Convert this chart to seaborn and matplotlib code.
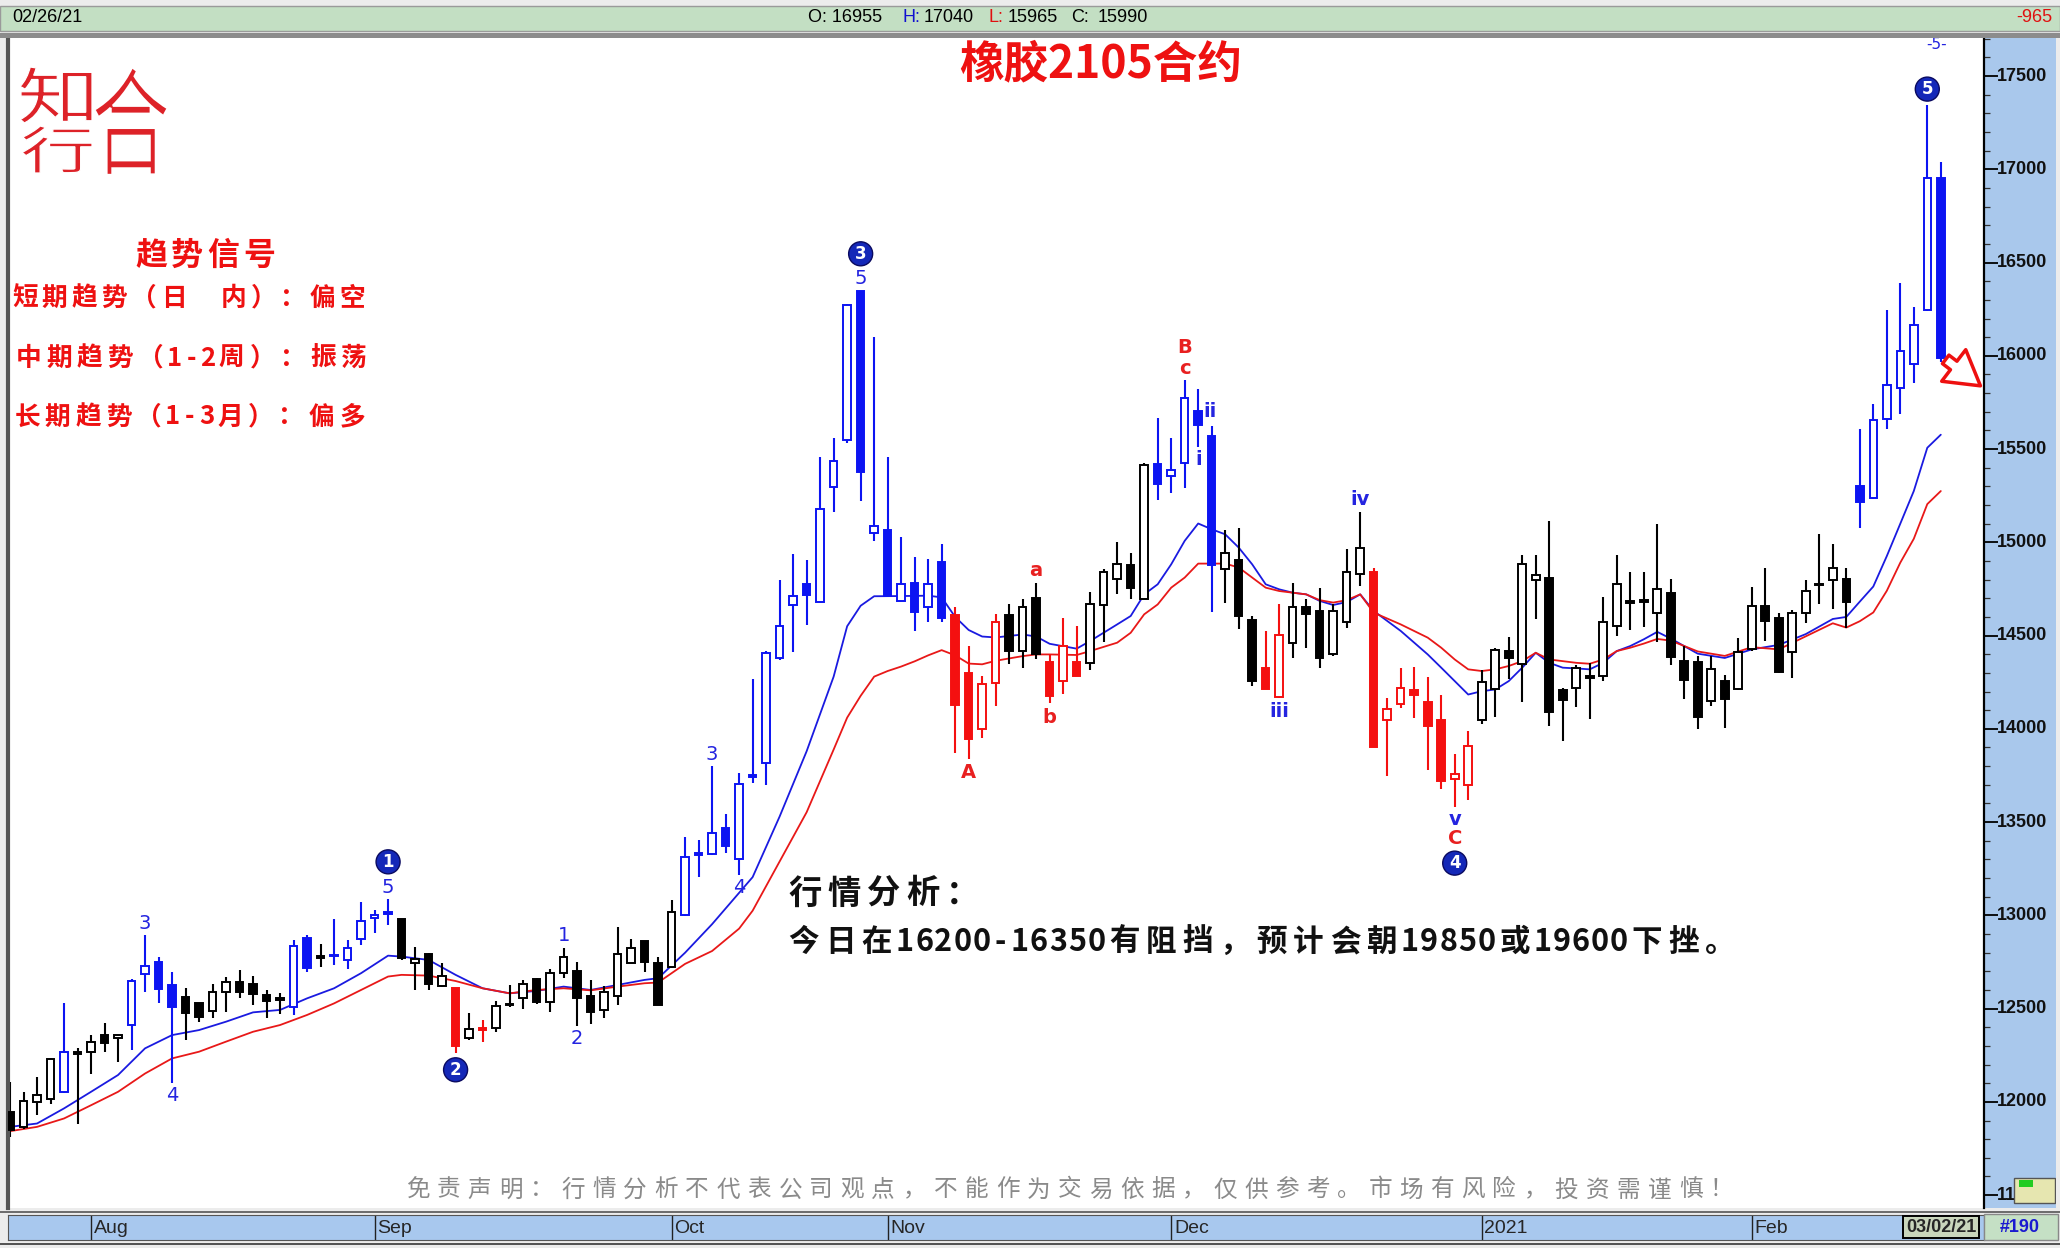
import matplotlib
matplotlib.use("Agg")
import numpy as np
import matplotlib.pyplot as plt
import seaborn as sns
from matplotlib.patches import Rectangle, PathPatch, FancyArrowPatch
from matplotlib.textpath import TextPath
from matplotlib.font_manager import FontProperties
from matplotlib.transforms import Affine2D, IdentityTransform, blended_transform_factory
from matplotlib.ticker import MultipleLocator

# ---- daily bars, index 0 = first bar on the left ----
opens = [11947, 11866, 12000, 12018, 12051, 12265, 12269, 12358, 12340, 12412,
         12684, 12752, 12627, 12561, 12528, 12489, 12591, 12641, 12630, 12573,
         12555, 12511, 12877, 12784, 12787, 12761, 12874, 12985, 13016, 12978,
         12747, 12792, 12623, 12609, 12341, 12395, 12398, 12527, 12555, 12657,
         12537, 12690, 12704, 12570, 12493, 12570, 12743, 12860, 12745, 12725,
         13001, 13335, 13330, 13467, 13301, 13750, 13817, 14380, 14663, 14776,
         14682, 15299, 15549, 16347, 15050, 15065, 14686, 14782, 14653, 14897,
         14609, 14300, 14000, 14244, 14608, 14420, 14703, 14360, 14259, 14360,
         14354, 14664, 14802, 14879, 14694, 15419, 15357, 15428, 15702, 15571,
         14855, 14904, 14583, 14324, 14170, 14462, 14653, 14632, 14399, 14575,
         14832, 14843, 14045, 14131, 14206, 14145, 14045, 13733, 13701, 14045,
         14211, 14417, 14346, 14798, 14811, 14206, 14217, 14282, 14283, 14551,
         14684, 14690, 14623, 14729, 14364, 14357, 14148, 14257, 14213, 14427,
         14659, 14596, 14410, 14620, 14778, 14798, 14801, 15303, 15240, 15659,
         15826, 15954, 16247, 16955]
highs = [12108, 12051, 12133, 12237, 12528, 12287, 12358, 12425, 12358, 12659,
         12895, 12777, 12695, 12609, 12528, 12632, 12672, 12706, 12673, 12600,
         12584, 12869, 12895, 12845, 12980, 12870, 13074, 13030, 13089, 12981,
         12833, 12797, 12743, 12609, 12478, 12439, 12543, 12627, 12654, 12666,
         12713, 12824, 12752, 12654, 12623, 12940, 12874, 12860, 12777, 13082,
         13421, 13402, 13801, 13541, 13765, 14266, 14418, 14800, 14940, 14905,
         15455, 15558, 16278, 16347, 16101, 15455, 15027, 14922, 14912, 14989,
         14653, 14446, 14284, 14614, 14671, 14698, 14784, 14399, 14592, 14551,
         14735, 14855, 15004, 14945, 15423, 15665, 15559, 15870, 15822, 15625,
         15065, 15079, 14605, 14524, 14668, 14780, 14694, 14757, 14671, 14963,
         15165, 14861, 14163, 14324, 14333, 14278, 14184, 13866, 13988, 14313,
         14435, 14494, 14933, 14933, 15115, 14220, 14342, 14354, 14707, 14933,
         14843, 14843, 15100, 14806, 14443, 14392, 14392, 14290, 14489, 14759,
         14861, 14620, 14636, 14798, 15042, 14991, 14861, 15605, 15740, 16247,
         16391, 16263, 17344, 17040]
lows = [11812, 11857, 11929, 11986, 12045, 11884, 12152, 12269, 12215, 12278,
        12587, 12528, 12100, 12332, 12430, 12448, 12484, 12555, 12519, 12451,
        12469, 12466, 12695, 12724, 12734, 12713, 12842, 12904, 12949, 12761,
        12600, 12600, 12618, 12260, 12332, 12323, 12376, 12511, 12498, 12523,
        12480, 12666, 12409, 12416, 12451, 12520, 12743, 12695, 12520, 12720,
        12995, 13205, 13325, 13337, 13217, 13709, 13697, 14370, 14413, 14557,
        14678, 15161, 15535, 15223, 15008, 14711, 14686, 14524, 14571, 14571,
        13872, 13838, 13952, 14122, 14349, 14324, 14372, 14139, 14188, 14283,
        14313, 14467, 14725, 14694, 14694, 15226, 15262, 15290, 15509, 14628,
        14676, 14533, 14229, 14211, 14163, 14381, 14435, 14327, 14390, 14542,
        14766, 13902, 13746, 14113, 14059, 13782, 13680, 13579, 13621, 14027,
        14063, 14265, 14145, 14587, 14014, 13934, 14116, 14055, 14256, 14498,
        14528, 14546, 14465, 14341, 14159, 14000, 14125, 14006, 14206, 14415,
        14473, 14298, 14275, 14566, 14670, 14643, 14543, 15077, 15233, 15605,
        15689, 15856, 16240, 15965]
closes = [11848, 12004, 12036, 12230, 12265, 12255, 12319, 12314, 12358, 12648,
          12729, 12605, 12509, 12475, 12457, 12591, 12641, 12591, 12577, 12541,
          12545, 12838, 12716, 12770, 12782, 12824, 12971, 13003, 13008, 12770,
          12765, 12630, 12677, 12301, 12391, 12387, 12516, 12520, 12632, 12537,
          12690, 12779, 12559, 12484, 12588, 12793, 12827, 12752, 12520, 13017,
          13313, 13325, 13440, 13373, 13702, 13740, 14406, 14551, 14711, 14719,
          15180, 15436, 16274, 15376, 15088, 14711, 14774, 14628, 14774, 14596,
          14129, 13945, 14238, 14575, 14417, 14653, 14399, 14175, 14444, 14283,
          14671, 14843, 14886, 14757, 15414, 15312, 15387, 15774, 15630, 14879,
          14945, 14605, 14256, 14211, 14501, 14653, 14614, 14381, 14632, 14843,
          14968, 13902, 14107, 14220, 14181, 14014, 13719, 13760, 13907, 14252,
          14421, 14381, 14883, 14823, 14091, 14152, 14324, 14274, 14575, 14775,
          14676, 14682, 14748, 14387, 14264, 14066, 14322, 14160, 14410, 14659,
          14578, 14303, 14620, 14740, 14772, 14861, 14682, 15215, 15656, 15842,
          16028, 16163, 16954, 15990]
bar_colors = ("kkkkbkkkkbbbbkkkkkkkkbbkbbbbbkkkkrkr" + "k" * 14 + "b" * 20 + "rrrr"
              + "kkk" + "rrr" + "kkkkk" + "bbbbb" + "kkk" + "rr" + "kkkkkk"
              + "r" * 8 + "k" * 28 + "b" * 7)

# ---- moving averages (read at sample bars) ----
ma_fast_idx = [0, 2, 4, 6, 8, 10, 12, 14, 16, 18, 20, 22, 24, 26, 28, 29, 31, 33, 35, 37,
               39, 41, 43, 45, 47, 48, 50, 52, 54, 55, 57, 59, 61, 62, 63, 64, 66, 68, 69,
               70, 71, 72, 73, 75, 76, 77, 79, 80, 82, 83, 84, 85, 86, 87, 88, 89, 90, 91,
               92, 93, 94, 95, 96, 97, 98, 99, 100, 101, 103, 105, 106, 107, 108, 109, 110,
               111, 112, 113, 114, 115, 116, 117, 118, 119, 120, 121, 122, 123, 125, 127,
               129, 131, 133, 135, 136, 137, 138, 139, 140, 141, 142, 143]
ma_fast = [11866, 11884, 11965, 12054, 12144, 12287, 12358, 12385, 12430, 12480, 12493,
           12555, 12609, 12690, 12784, 12779, 12761, 12681, 12609, 12582, 12595, 12618,
           12600, 12627, 12654, 12663, 12800, 12953, 13121, 13205, 13530, 13880, 14280,
           14550, 14660, 14711, 14712, 14714, 14705, 14600, 14530, 14495, 14490, 14506,
           14495, 14456, 14430, 14471, 14560, 14605, 14721, 14775, 14882, 15008, 15101,
           15070, 15043, 14972, 14882, 14775, 14748, 14730, 14721, 14686, 14664, 14680,
           14721, 14632, 14525, 14399, 14328, 14256, 14184, 14202, 14211, 14256, 14328,
           14408, 14354, 14328, 14324, 14319, 14354, 14417, 14444, 14480, 14520, 14484,
           14403, 14380, 14426, 14450, 14508, 14589, 14600, 14682, 14763, 14926, 15100,
           15275, 15507, 15577]
ma_slow_idx = [0, 2, 4, 6, 8, 10, 12, 14, 16, 18, 20, 22, 24, 26, 28, 29, 31, 33, 35, 37,
               39, 41, 43, 45, 47, 48, 50, 52, 54, 55, 57, 59, 61, 62, 63, 64, 65, 66, 67,
               68, 69, 70, 71, 72, 73, 75, 76, 77, 79, 80, 82, 83, 84, 85, 86, 87, 88, 89,
               90, 91, 92, 93, 94, 95, 96, 97, 98, 99, 100, 101, 103, 105, 106, 107, 108,
               109, 110, 111, 112, 113, 114, 115, 116, 117, 118, 119, 120, 121, 122, 123,
               125, 127, 129, 131, 133, 135, 136, 137, 138, 139, 140, 141, 142, 143]
ma_slow = [11843, 11866, 11911, 11982, 12054, 12152, 12233, 12269, 12323, 12376, 12412,
           12466, 12528, 12600, 12672, 12681, 12677, 12648, 12609, 12582, 12600, 12609,
           12598, 12618, 12636, 12640, 12740, 12809, 12929, 13025, 13289, 13553, 13889,
           14060, 14177, 14280, 14310, 14334, 14362, 14394, 14422, 14394, 14350, 14346,
           14365, 14390, 14399, 14399, 14396, 14417, 14462, 14515, 14614, 14667, 14757,
           14811, 14886, 14886, 14886, 14865, 14811, 14757, 14739, 14730, 14721, 14690,
           14677, 14690, 14721, 14623, 14560, 14489, 14435, 14372, 14319, 14310, 14319,
           14337, 14363, 14408, 14372, 14363, 14354, 14349, 14372, 14417, 14435, 14457,
           14482, 14473, 14415, 14391, 14438, 14426, 14496, 14566, 14543, 14577, 14624,
           14740, 14891, 15019, 15205, 15275]

month_pos = [6, 27, 49, 65, 86, 109, 129]
month_lab = ["Aug", "Sep", "Oct", "Nov", "Dec", "2021", "Feb"]
price_ticks = list(range(11500, 18000, 500))

# wave labels: (bar, price, text, colour)
wave_labels = [(10, 12958, "3", "b"), (12, 12032, "4", "b"), (28, 13152, "5", "b"),
               (41, 12892, "1", "b"), (42, 12342, "2", "b"), (52, 13865, "3", "b"),
               (54, 13152, "4", "b"), (63, 16412, "5", "b"), (71, 13767, "A", "r"),
               (76, 14847, "a", "r"), (77, 14063, "b", "r"), (87, 16044, "B", "r"),
               (87, 15932, "c", "r"), (88.9, 15700, "ii", "b"), (88, 15446, "i", "b"),
               (94, 14091, "iii", "b"), (100, 15228, "iv", "b"), (107, 13512, "v", "b"),
               (107, 13413, "C", "r")]
wave_circles = [(28, 13287, "1"), (33, 12172, "2"), (63, 16547, "3"),
                (107, 13280, "4"), (142, 17430, "5")]

W, H = 2060, 1248
sns.set_style("white")
plt.rcParams["font.family"] = ["Noto Sans CJK SC", "DejaVu Sans"]

fig = plt.figure(figsize=(W / 100, H / 100), dpi=100, facecolor="#ececec")


def fx(px):
    return px / W


def fy(py):
    return 1 - py / H


# top status bar
fig.add_artist(Rectangle((0, fy(31)), 1, 25 / H, transform=fig.transFigure,
                         facecolor="#c3dfc3", edgecolor="#9a9a9a", lw=1))
fig.add_artist(Rectangle((0, fy(38)), 1, 5 / H, transform=fig.transFigure,
                         facecolor="#8c8c8c", edgecolor="none"))
top_kw = dict(fontsize=13, va="center", family="Liberation Sans")
fig.text(fx(12), fy(18), "02/26/21", color="black", **top_kw)
for px, s, c in [(808, "O: 16955", "black"), (902, "H:", "#1010d0"), (924, "17040", "black"),
                 (988, "L:", "#e01010"), (1008, "15965", "black"), (1071, "C:", "black"),
                 (1098, "15990", "black")]:
    fig.text(fx(px), fy(18), s, color=c, **top_kw)
fig.text(fx(2052), fy(18), "-965", color="#e01010", ha="right", **top_kw)

# main price panel
ax = fig.add_axes([fx(8), fy(1208), fx(1984) - fx(8), (1208 - 38) / H], facecolor="white")
ax.set_xlim(-0.15, 146.2)
ax.set_ylim(11431, 17704)
ax.set_xticks([])
ax.set_yticks([])
for side in ["top", "right", "bottom"]:
    ax.spines[side].set_visible(False)
ax.spines["left"].set_color("#555555")
ax.spines["left"].set_linewidth(3)

sns.lineplot(x=ma_fast_idx, y=ma_fast, ax=ax, color="#1a1ae0", lw=1.3, zorder=1)
sns.lineplot(x=ma_slow_idx, y=ma_slow, ax=ax, color="#e81818", lw=1.3, zorder=1)

cmap = {"b": "#0c14f2", "k": "#000000", "r": "#f41010"}
op, hi, lo, cl = map(np.array, (opens, highs, lows, closes))
idx = np.arange(len(op))
cols = [cmap[c] for c in bar_colors]
ax.vlines(idx, lo, hi, colors=cols, lw=1.5, zorder=2)
faces = [c if b < a else "white" for a, b, c in zip(op, cl, cols)]
ax.bar(idx, np.abs(cl - op), bottom=np.minimum(op, cl), width=0.56, color=faces,
       edgecolor=cols, linewidth=1.4, zorder=3)
ax.set_xlabel("")
ax.set_ylabel("")

lab_col = {"b": "#2424e0", "r": "#e82020"}
for x, y, s, c in wave_labels:
    ax.text(x, y, s, color=lab_col[c], ha="center", va="center", fontsize=14,
            fontweight="bold" if s.isalpha() else "normal", family="DejaVu Sans", zorder=5)
for x, y, s in wave_circles:
    ax.text(x, y, s, color="white", ha="center", va="center", fontsize=12, fontweight="bold",
            family="DejaVu Sans", zorder=6,
            bbox=dict(boxstyle="circle,pad=0.18", fc="#1428b8", ec="#0a0a60", lw=1))
ax.text(142.7, 17668, "-5-", color="#2424e0", ha="center", va="center", fontsize=11,
        family="DejaVu Sans")

arrow = FancyArrowPatch((143.2, 15990), (146.1, 15830),
                        arrowstyle="simple,head_length=1.1,head_width=1.3,tail_width=0.35",
                        mutation_scale=22, fc="white", ec="#ee1010", lw=2.5,
                        clip_on=False, zorder=7)
ax.add_patch(arrow)

# price axis on the right
axr = fig.add_axes([fx(1984), fy(1208), fx(2056) - fx(1984), (1208 - 38) / H],
                   facecolor="#a9c8ec")
axr.set_ylim(ax.get_ylim())
axr.set_xlim(0, 1)
axr.set_xticks([])
axr.yaxis.set_major_locator(MultipleLocator(500))
axr.yaxis.set_minor_locator(MultipleLocator(100))
axr.tick_params(axis="y", which="major", direction="in", length=10, width=1.3,
                left=True, right=False, labelleft=False, color="black")
axr.tick_params(axis="y", which="minor", direction="in", length=4, width=0.9,
                left=True, right=False, color="#333333")
for side in ["top", "right", "bottom"]:
    axr.spines[side].set_visible(False)
axr.spines["left"].set_color("black")
axr.spines["left"].set_linewidth(1.6)
tr = blended_transform_factory(axr.transAxes, axr.transData)
for v in price_ticks:
    axr.text(0.18, v, str(v), transform=tr, va="center", ha="left", fontsize=13,
             fontweight="bold", family="Liberation Sans", color="#111111")
axr.add_patch(Rectangle((0.42, 0.004), 0.56, 0.022, transform=axr.transAxes,
                        facecolor="#e6e6b0", edgecolor="#555555", lw=1, zorder=5))
axr.add_patch(Rectangle((0.48, 0.018), 0.2, 0.006, transform=axr.transAxes,
                        facecolor="#22cc22", edgecolor="none", zorder=6))

# date strip
fig.add_artist(Rectangle((0, fy(1213)), 1, 2 / H, transform=fig.transFigure,
                         facecolor="#6e6e6e", edgecolor="none"))
axd = fig.add_axes([fx(8), fy(1240), fx(1984) - fx(8), 25 / H], facecolor="#a8c8ee")
axd.set_xlim(ax.get_xlim())
axd.set_ylim(0, 1)
axd.set_xticks([])
axd.set_yticks([])
for s in axd.spines.values():
    s.set_color("#555555")
for p, m in zip(month_pos, month_lab):
    axd.axvline(p, color="#222222", lw=1)
    axd.text(p + 0.2, 0.45, m, ha="left", va="center", fontsize=14, family="Liberation Sans")
fig.add_artist(Rectangle((fx(1984), fy(1240)), fx(2058) - fx(1984), 26 / H,
                         transform=fig.transFigure, facecolor="#c5e0c5", edgecolor="#888888"))
fig.text(fx(1941), fy(1227), "03/02/21", ha="center", va="center", fontsize=13,
         family="Liberation Sans", fontweight="bold",
         bbox=dict(boxstyle="square,pad=0.15", fc="#c9d6bc", ec="black", lw=1.4))
fig.text(fx(2020), fy(1227), "#190", ha="center", va="center", fontsize=13,
         family="Liberation Sans", fontweight="bold", color="#1a1ad0")
fig.add_artist(Rectangle((0, fy(1245)), 1, 2 / H, transform=fig.transFigure,
                         facecolor="#555555", edgecolor="none"))


# text helpers
def spaced(s, x0, y, pitch, size, color, weight="normal", half=0.55):
    x = x0
    for ch in s:
        step = pitch * (half if ord(ch) < 128 else 1.0)
        fig.text(fx(x + step / 2), fy(y), ch, ha="center", va="center", fontsize=size,
                 color=color, fontweight=weight)
        x += step


def glyph(ch, x0, y0, x1, y1, color, thin):
    tp = TextPath((0, 0), ch, size=100,
                  prop=FontProperties(family="Noto Sans CJK SC", weight="light"))
    bb = tp.get_extents()
    t = (Affine2D().translate(-bb.x0, -bb.y0)
         .scale((x1 - x0) / bb.width, (y1 - y0) / bb.height).translate(x0, H - y1))
    # white outline thins the strokes to look like the light logo lettering
    fig.add_artist(PathPatch(t.transform_path(tp), facecolor=color, edgecolor="white",
                             lw=thin, transform=IdentityTransform()))


# logo
glyph("知", 20, 67, 92, 123, "#dd2228", 0.9)
glyph("行", 22, 126, 92, 173, "#dd2228", 0.9)
glyph("合", 94, 67, 168, 175, "#dd2228", 1.7)

# title
fig.text(fx(1101), fy(64), "橡胶2105合约", ha="center", va="center", fontsize=32,
         color="#ee1111", fontweight="bold")

# trend signal block
spaced("趋势信号", 133, 256, 36, 23, "#ee1111", "bold")
spaced("短期趋势（日　内）：偏空", 10, 298, 29.8, 18.5, "#ee1111", "bold")
spaced("中期趋势（1-2周）：振荡", 13, 358, 30.6, 18.5, "#ee1111", "bold")
spaced("长期趋势（1-3月）：偏多", 12, 417, 30.5, 18.5, "#ee1111", "bold")

# analysis
spaced("行情分析：", 785, 894, 39.5, 24, "#111111", "bold")
spaced("今日在16200-16350有阻挡，预计会朝19850或19600下挫。", 785, 942, 36.8, 22,
       "#111111", "bold", half=0.52)

# disclaimer
spaced("免责声明：行情分析不代表公司观点，不能作为交易依据，仅供参考。市场有风险，投资需谨慎！",
       402, 1190, 31.05, 17, "#8a8a8a")

fig.savefig("out.png", dpi=100, facecolor=fig.get_facecolor())
